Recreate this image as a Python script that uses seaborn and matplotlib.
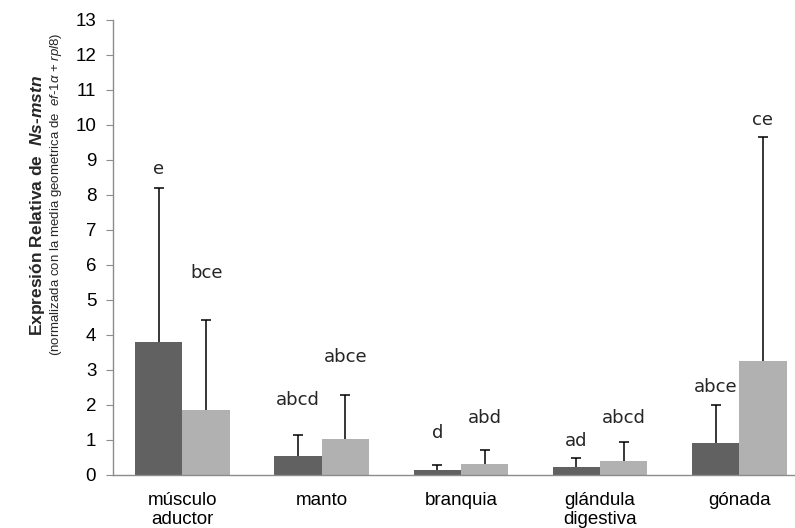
import numpy as np
import pandas as pd
import matplotlib
matplotlib.use("Agg")
import matplotlib.pyplot as plt
import seaborn as sns

# === Datos ===
tejidos = ["músculo\naductor", "manto", "branquia", "glándula\ndigestiva", "gónada"]
grupos = ["grupo 1", "grupo 2"]
media_g1 = [3.80, 0.54, 0.15, 0.23, 0.91]
media_g2 = [1.86, 1.03, 0.31, 0.40, 3.26]
sup_g1 = [8.20, 1.14, 0.29, 0.49, 2.00]   # extremo superior de la barra de error
sup_g2 = [4.43, 2.29, 0.71, 0.94, 9.66]
letras_g1 = ["e", "abcd", "d", "ad", "abce"]
letras_g2 = ["bce", "abce", "abd", "abcd", "ce"]
letras_y_g1 = [8.74, 2.14, 1.20, 0.97, 2.51]
letras_y_g2 = [5.77, 3.37, 1.63, 1.63, 10.14]

df = pd.DataFrame({
    "tejido": tejidos * 2,
    "grupo": [grupos[0]] * 5 + [grupos[1]] * 5,
    "expresion": media_g1 + media_g2,
})

sns.set_style("white")
plt.rcParams["font.family"] = ["Liberation Sans", "DejaVu Sans"]
plt.rcParams["mathtext.fontset"] = "custom"
plt.rcParams["mathtext.rm"] = "Liberation Sans"
plt.rcParams["mathtext.it"] = "Liberation Sans:italic"
plt.rcParams["mathtext.bf"] = "Liberation Sans:bold"
plt.rcParams["mathtext.bfit"] = "Liberation Sans:italic:bold"

fig = plt.figure(figsize=(7.95, 5.28), dpi=100)
ax = fig.add_axes([0.142, 0.1004, 0.858, 0.862])

sns.barplot(
    data=df, x="tejido", y="expresion", hue="grupo", order=tejidos,
    palette=["#616161", "#b1b1b1"], width=0.68, errorbar=None,
    linewidth=0, legend=False, ax=ax,
)

# barras de error (solo hacia arriba) y letras
for cont, medias, sups, letras, ly in zip(
    ax.containers, [media_g1, media_g2], [sup_g1, sup_g2],
    [letras_g1, letras_g2], [letras_y_g1, letras_y_g2],
):
    xs = [b.get_x() + b.get_width() / 2 for b in cont]
    err = np.array(sups) - np.array(medias)
    ax.errorbar(xs, medias, yerr=[np.zeros(len(err)), err], fmt="none",
                ecolor="black", elinewidth=1.1, capsize=0)
    ax.plot(xs, sups, ls="none", marker="_", ms=7, mew=1.1, color="black")
    for x, y, t in zip(xs, ly, letras):
        ax.text(x, y, t, ha="center", va="center", fontsize=13,
                family="DejaVu Sans")

ax.set_ylim(0, 13)
ax.set_yticks(range(0, 14))
ax.set_xlim(-0.5, 4.4)
ax.set_xlabel("")
ax.set_ylabel("")

for s in ["top", "right"]:
    ax.spines[s].set_visible(False)
for s in ["left", "bottom"]:
    ax.spines[s].set_color("#8c8c8c")
    ax.spines[s].set_linewidth(1)

ax.tick_params(axis="y", left=True, length=5, color="#8c8c8c", pad=7,
               labelsize=13.5, labelcolor="black")
ax.tick_params(axis="x", bottom=False, length=0, pad=12, labelsize=13.5,
               labelcolor="black")

fig.text(0.047, 0.61, r"Expresión Relativa de  $\mathbfit{Ns}$-$\mathbfit{mstn}$",
         rotation=90, ha="center", va="center", fontsize=12.5, fontweight="bold")
fig.text(0.071, 0.632,
         r"(normalizada con la media geometrica de  $\mathit{ef}$-$\mathit{1\alpha}$ + $\mathit{rpl8}$)",
         rotation=90, ha="center", va="center", fontsize=9.5)

plt.savefig("out.png", dpi=100)
